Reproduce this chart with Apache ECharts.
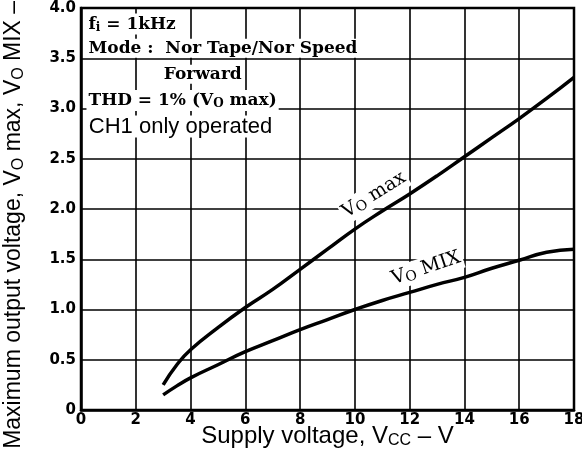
<!DOCTYPE html>
<html>
<head>
<meta charset="utf-8">
<script src="https://cdn.jsdelivr.net/npm/echarts@6/dist/echarts.min.js"></script>
<style>
  html, body { margin: 0; padding: 0; background: #fff; }
  #chart { width: 582px; height: 450px; }
</style>
</head>
<body>
<div id="chart"></div>
<script>
// supply voltage Vcc (V)
const vcc = [3, 3.5, 4, 5, 6, 7, 8, 9, 10, 11, 12, 13, 14, 15, 16, 17, 18];
// Vo max (V)
const voMax = [0.25, 0.45, 0.6, 0.82, 1.02, 1.2, 1.4, 1.6, 1.8, 1.98, 2.15, 2.33, 2.52, 2.71, 2.9, 3.1, 3.31];
// Vo MIX (V)
const voMix = [0.15, 0.24, 0.32, 0.45, 0.58, 0.69, 0.8, 0.9, 1.0, 1.09, 1.17, 1.25, 1.32, 1.41, 1.49, 1.57, 1.6];

const pairs = (xs, ys) => xs.map((x, i) => [x, ys[i]]);

const serif = "DejaVu Serif";
const sans = "Liberation Sans";
const nameSub = { sub: { fontSize: 16, fontFamily: sans, verticalAlign: "bottom", padding: [10, 0, 0, 0] } };

const chart = echarts.init(document.getElementById("chart"));

chart.setOption({
  animation: false,
  grid: {
    left: 81, right: 8, top: 8, bottom: 40,
    outerBoundsMode: "none",
    show: true, borderColor: "#000", borderWidth: 2.5
  },
  xAxis: {
    type: "value",
    min: 0,
    max: 18,
    interval: 2,
    name: "Supply voltage, V{sub|CC} – V",
    nameLocation: "middle",
    nameGap: 13,
    nameMoveOverlap: false,
    nameTextStyle: { fontFamily: sans, fontSize: 24, color: "#000", verticalAlign: "top", rich: nameSub },
    axisLine: { lineStyle: { color: "#000", width: 2.5 } },
    axisTick: { show: false },
    axisLabel: { color: "#000", fontFamily: "DejaVu Sans", fontWeight: "bold", fontSize: 15, margin: 3 },
    splitLine: { lineStyle: { color: "#000", width: 1.6 } }
  },
  yAxis: {
    type: "value",
    min: 0,
    max: 4,
    interval: 0.5,
    name: "Maximum output voltage, V{sub|O} max, V{sub|O} MIX – V",
    nameLocation: "middle",
    nameGap: 54,
    nameMoveOverlap: false,
    nameTextStyle: { fontFamily: sans, fontSize: 23, color: "#000", padding: [0, 10, 0, 0], rich: nameSub },
    axisLine: { lineStyle: { color: "#000", width: 2.5 } },
    axisTick: { show: false },
    axisLabel: {
      color: "#000", fontFamily: "DejaVu Sans", fontWeight: "bold", fontSize: 15, margin: 5,
      verticalAlign: "middle", padding: [0, 0, 8, 0],
      formatter: v => (v === 0 ? "0" : v.toFixed(1))
    },
    splitLine: { lineStyle: { color: "#000", width: 1.6 } }
  },
  series: [
    {
      name: "Vo max",
      type: "line",
      smooth: true,
      symbol: "none",
      lineStyle: { color: "#000", width: 3.5 },
      data: pairs(vcc, voMax),
      z: 3
    },
    {
      name: "Vo MIX",
      type: "line",
      smooth: true,
      symbol: "none",
      lineStyle: { color: "#000", width: 3.5 },
      data: pairs(vcc, voMix),
      z: 3
    }
  ]
});

// annotation texts placed from data coordinates
const at = (x, y) => chart.convertToPixel({ gridIndex: 0 }, [x, y]);
const noteStyle = { fontFamily: serif, fontSize: 17, fontWeight: "bold", fill: "#000", backgroundColor: "#fff", padding: [1, 2], verticalAlign: "middle" };
const subRich = { sub: { fontFamily: serif, fontSize: 12, fontWeight: "bold", verticalAlign: "bottom", padding: [7, 0, 0, 0] } };
const labelRich = { sub: { fontFamily: serif, fontSize: 14, verticalAlign: "bottom", padding: [7, 0, 0, 0] } };
const note = (p, extra, rot) => ({
  type: "text", x: p[0], y: p[1], rotation: rot || 0, z: 10,
  style: Object.assign({}, noteStyle, { rich: subRich }, extra)
});

chart.setOption({
  graphic: [
    note(at(0.2, 3.84), { text: "f{sub|i} = 1kHz" }),
    note(at(0.2, 3.6), { text: "Mode :  Nor Tape/Nor Speed" }),
    note(at(2.95, 3.34), { text: "Forward" }),
    note(at(0.2, 3.08), { text: "THD = 1% (V{sub|O} max)" }),
    note(at(0.25, 2.82), { text: "CH1 only operated", fontFamily: sans, fontWeight: "normal", fontSize: 22, padding: [0, 1] }),
    note(at(10.7, 2.14), { text: "V{sub|O} max", fontSize: 19, fontWeight: "normal", align: "center", rich: labelRich }, 32 * Math.PI / 180),
    note(at(12.6, 1.41), { text: "V{sub|O} MIX", fontSize: 19, fontWeight: "normal", align: "center", rich: labelRich }, 18.5 * Math.PI / 180)
  ]
});
</script>
</body>
</html>
